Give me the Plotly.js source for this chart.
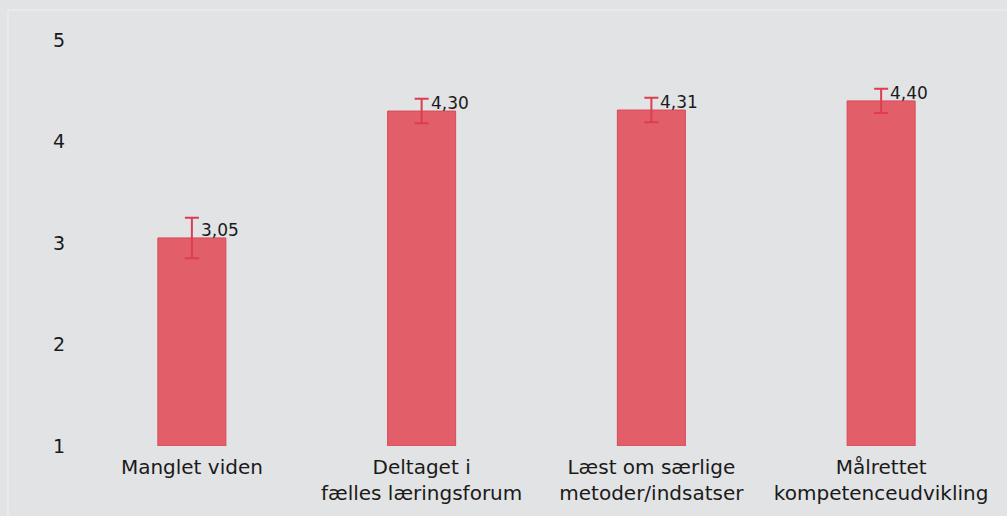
<!DOCTYPE html>
<html>
<head>
<meta charset="utf-8">
<script src="https://cdn.plot.ly/plotly-3.0.1.min.js"></script>
<style>
html,body{margin:0;padding:0;background:#e2e3e5;}
#chart{width:1007px;height:516px;}
</style>
</head>
<body>
<div id="chart"></div>
<script>
const categories = ["Manglet viden", "Deltaget i<br>fælles læringsforum", "Læst om særlige<br>metoder/indsatser", "Målrettet<br>kompetenceudvikling"];
const values = [3.05, 4.30, 4.31, 4.40];
const errors = [0.20, 0.12, 0.12, 0.12];
const valueLabels = ["3,05", "4,30", "4,31", "4,40"];
const yTicks = [1, 2, 3, 4, 5];

const xIdx = categories.map((c, i) => i);

const trace = {
  type: 'bar',
  x: xIdx,
  y: values.map(v => v - 1),
  base: 1,
  marker: {color: '#e25f6a', line: {color: '#d94b58', width: 1}},
  error_y: {type: 'data', array: errors, visible: true, color: '#dc3d50', thickness: 2, width: 7},
  hoverinfo: 'skip'
};

const annotations = values.map((v, i) => ({
  x: i, y: v, xref: 'x', yref: 'y',
  text: valueLabels[i], showarrow: false,
  xanchor: 'left', yanchor: 'bottom', xshift: 7, yshift: -4,
  font: {family: 'DejaVu Sans', size: 17, color: '#1a1a1a'}
}));

const layout = {
  width: 1007, height: 516,
  margin: {l: 77, r: 11, t: 40, b: 70},
  paper_bgcolor: '#e2e3e5',
  plot_bgcolor: '#e2e3e5',
  showlegend: false,
  bargap: 0.704,
  xaxis: {
    range: [-0.5, 3.5], tickvals: xIdx, ticktext: categories,
    showgrid: false, zeroline: false, showline: false, ticks: '',
    ticklabelstandoff: 7,
    tickfont: {family: 'DejaVu Sans', size: 20, color: '#1a1a1a'}
  },
  yaxis: {
    range: [1, 5], tickvals: yTicks, ticktext: yTicks.map(String),
    showgrid: false, zeroline: false, showline: false, ticks: '',
    ticklabelstandoff: 11,
    tickfont: {family: 'DejaVu Sans', size: 19, color: '#1a1a1a'}
  },
  annotations: annotations,
  shapes: [
    {type: 'line', xref: 'paper', yref: 'paper', x0: -0.0751, x1: 1.02, y0: 1.0739, y1: 1.0739, line: {color: '#eef0f2', width: 1}},
    {type: 'line', xref: 'paper', yref: 'paper', x0: -0.0751, x1: -0.0751, y0: -0.2, y1: 1.0739, line: {color: '#eef0f2', width: 1}}
  ]
};

Plotly.newPlot('chart', [trace], layout, {displayModeBar: false, staticPlot: true});
</script>
</body>
</html>
